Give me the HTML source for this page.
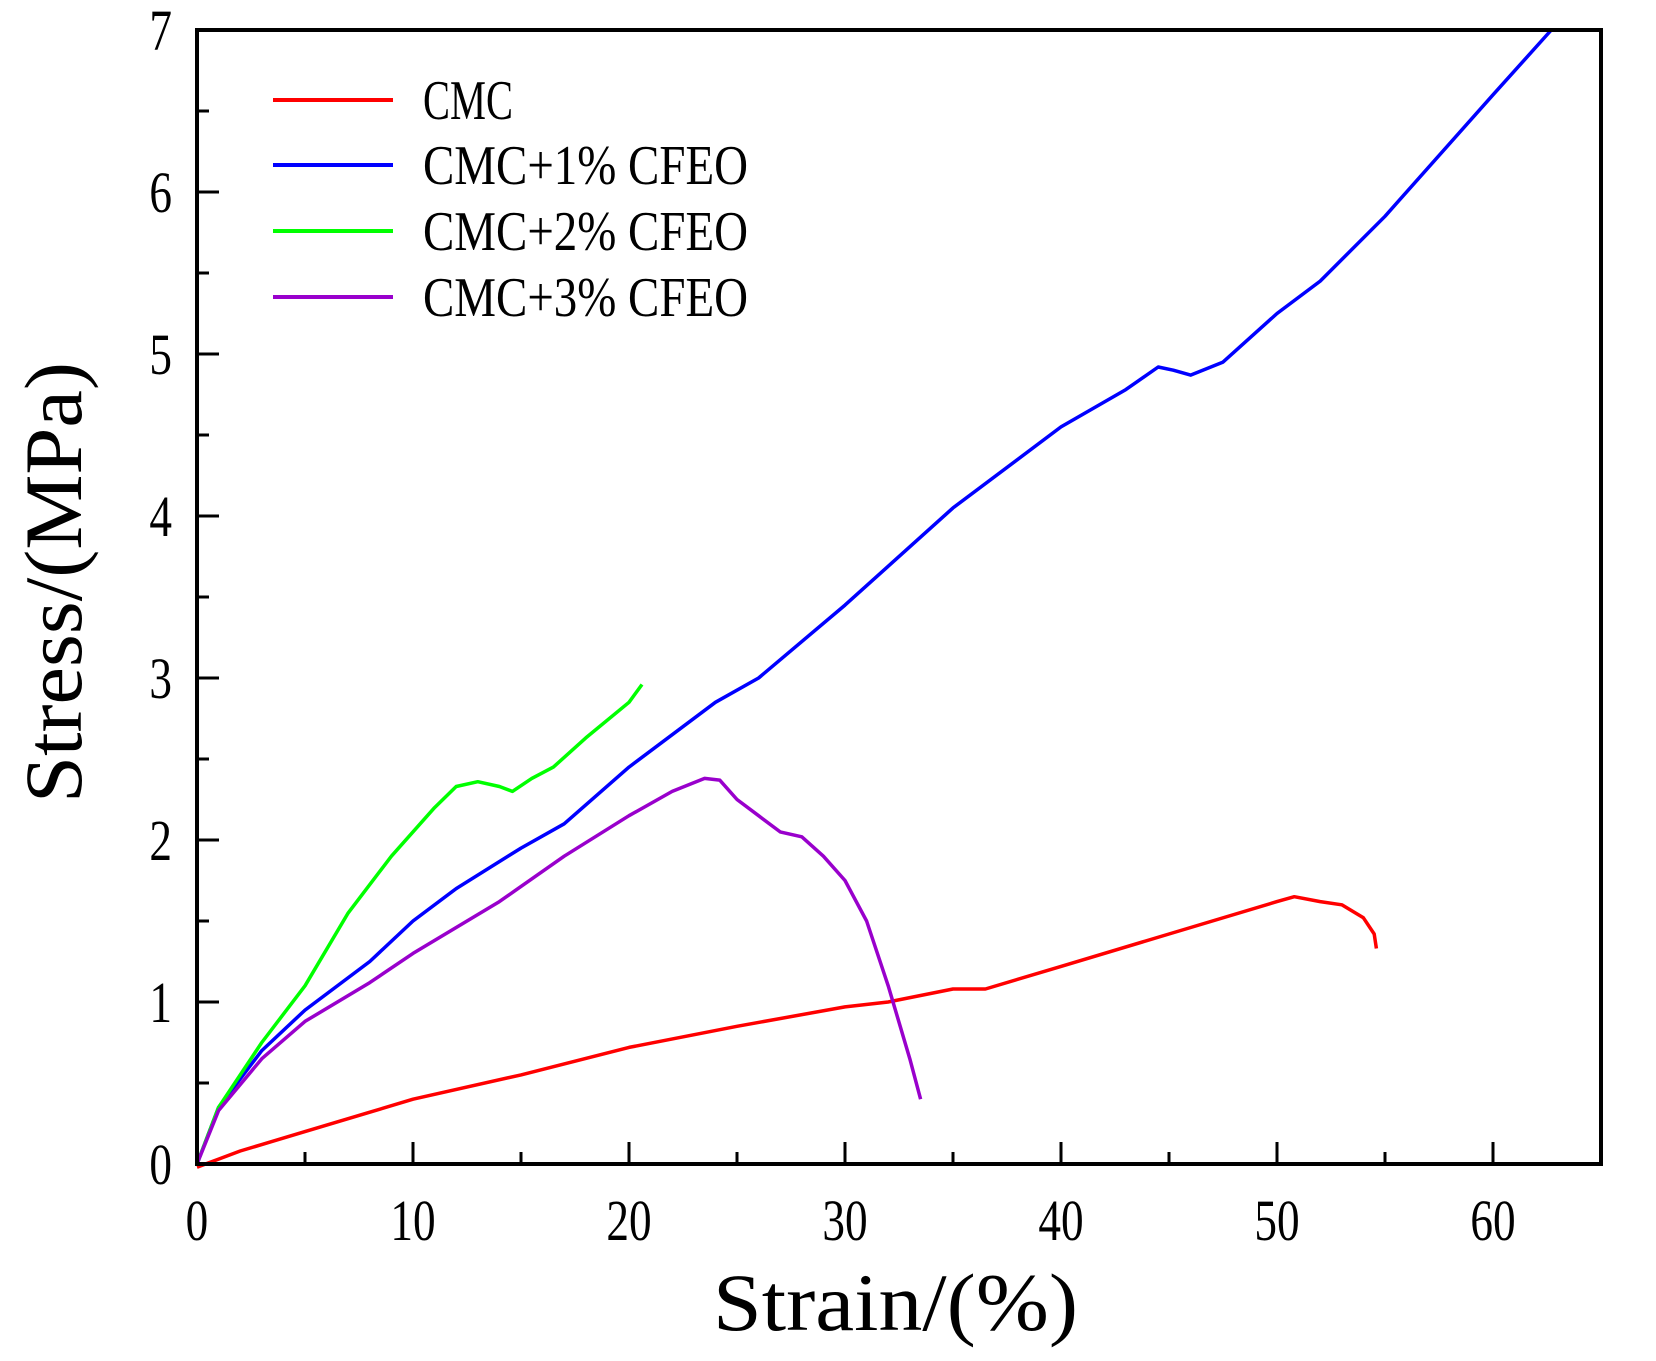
<!DOCTYPE html>
<html><head><meta charset="utf-8"><style>html,body{margin:0;padding:0;background:#fff}</style></head>
<body>
<svg id="s" width="1656" height="1361" xmlns="http://www.w3.org/2000/svg" style="display:block">
<rect width="1656" height="1361" fill="#fff"/>
<g id="curves" fill="none" stroke-width="3.5" stroke-linejoin="round"></g>
<g id="ticks" stroke="#000" stroke-width="3"></g>
<rect x="197" y="30" width="1404" height="1134" fill="none" stroke="#000" stroke-width="4"/>
<g font-family="Liberation Serif, serif" font-size="58" fill="#000" id="labels"></g>
<g stroke-width="4">
<line x1="273" y1="100" x2="393" y2="100" stroke="#f00"/>
<line x1="273" y1="165" x2="393" y2="165" stroke="#00f"/>
<line x1="273" y1="231" x2="393" y2="231" stroke="#0f0"/>
<line x1="273" y1="297" x2="393" y2="297" stroke="#9900cc"/>
</g>
<g font-family="Liberation Serif, serif" font-size="56" fill="#000">
<text x="423" y="119" textLength="90" lengthAdjust="spacingAndGlyphs">CMC</text>
<text x="423" y="184" textLength="325" lengthAdjust="spacingAndGlyphs">CMC+1% CFEO</text>
<text x="423" y="250" textLength="325" lengthAdjust="spacingAndGlyphs">CMC+2% CFEO</text>
<text x="423" y="316" textLength="325" lengthAdjust="spacingAndGlyphs">CMC+3% CFEO</text>
<text x="713" y="1330" font-size="82" textLength="365" lengthAdjust="spacingAndGlyphs">Strain/(%)</text>
<text transform="translate(81,803) rotate(-90)" font-size="82" textLength="441" lengthAdjust="spacingAndGlyphs">Stress/(MPa)</text>
</g>
</svg>
<script>
var X=function(v){return 197+21.6*v},Y=function(v){return 1164-162*v};
var data={
"#f00":[[0,-0.02],[1,0.03],[2,0.08],[5,0.2],[8,0.32],[10,0.4],[15,0.55],[20,0.72],[25,0.85],[30,0.97],[32,1.0],[35,1.08],[36.5,1.08],[40,1.22],[45,1.42],[50,1.62],[50.8,1.65],[52,1.62],[53,1.6],[54,1.52],[54.5,1.42],[54.6,1.33]],
"#00f":[[0,0],[1,0.35],[3,0.7],[5,0.95],[8,1.25],[10,1.5],[12,1.7],[15,1.95],[17,2.1],[20,2.45],[24,2.85],[26,3.0],[30,3.45],[35,4.05],[40,4.55],[43,4.78],[44.5,4.92],[45.2,4.9],[46,4.87],[47.5,4.95],[50,5.25],[52,5.45],[55,5.85],[60,6.6],[62.7,7.0]],
"#0f0":[[0,0],[1,0.35],[3,0.75],[5,1.1],[7,1.55],[9,1.9],[11,2.2],[12,2.33],[13,2.36],[14,2.33],[14.6,2.3],[15.5,2.38],[16.5,2.45],[18,2.63],[20,2.85],[20.6,2.96]],
"#9900cc":[[0,0],[1,0.33],[3,0.65],[5,0.88],[8,1.12],[10,1.3],[14,1.62],[17,1.9],[20,2.15],[22,2.3],[23.5,2.38],[24.2,2.37],[25,2.25],[26,2.15],[27,2.05],[28,2.02],[29,1.9],[30,1.75],[31,1.5],[32,1.1],[33,0.65],[33.5,0.4]]};
var ns="http://www.w3.org/2000/svg",g=document.getElementById("curves");
for(var c in data){var p=document.createElementNS(ns,"path");p.setAttribute("d","M"+data[c].map(function(q){return X(q[0]).toFixed(1)+","+Y(q[1]).toFixed(1)}).join("L"));p.setAttribute("stroke",c);g.appendChild(p);}
var t=document.getElementById("ticks"),L=document.getElementById("labels");
function ln(a,b,c,d){var l=document.createElementNS(ns,"line");l.setAttribute("x1",a);l.setAttribute("y1",b);l.setAttribute("x2",c);l.setAttribute("y2",d);t.appendChild(l);}
function tx(x,y,s,anc){var e=document.createElementNS(ns,"text");e.setAttribute("x",x);e.setAttribute("y",y);e.setAttribute("text-anchor",anc);e.textContent=s;e.setAttribute("transform","translate("+x+","+y+") scale(0.78,1) translate("+(-x)+","+(-y)+")");L.appendChild(e);}
for(var v=0;v<=65;v+=5){var x=X(v);ln(x,1164,x,1164-(v%10==0?22:12));if(v%10==0)tx(x,1240,""+v,"middle");}
for(var v=0;v<=7;v+=0.5){var y=Y(v);ln(197,y,197+(v%1==0?22:12),y);if(v%1==0)tx(172,y+20,""+v,"end");}
</script>
</body></html>
